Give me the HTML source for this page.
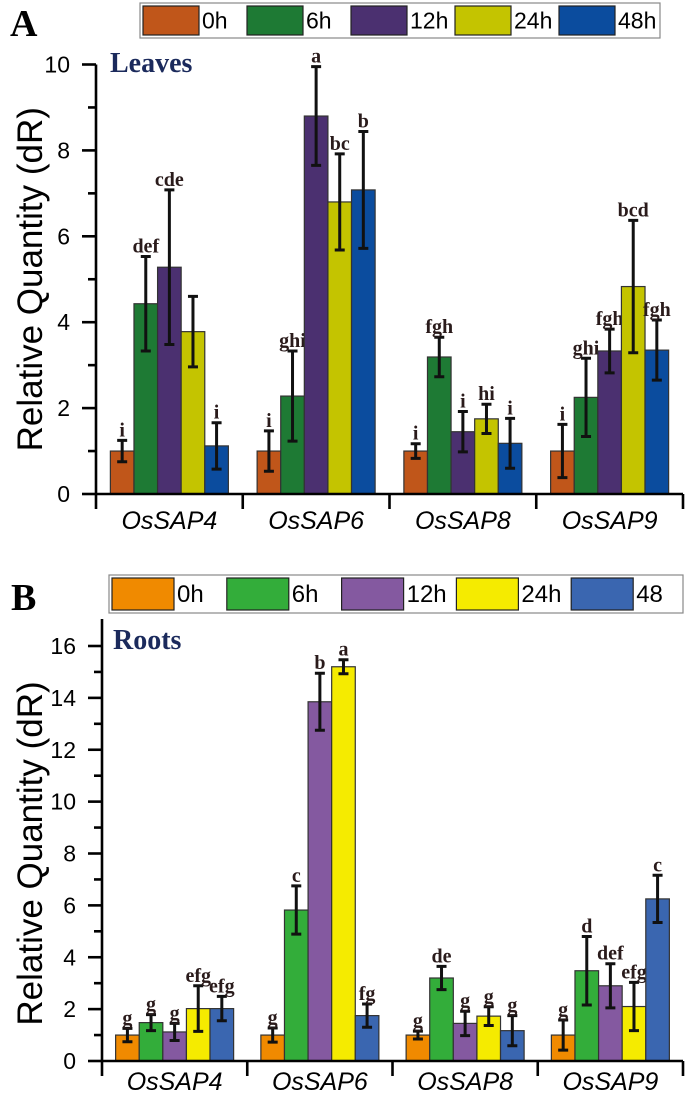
<!DOCTYPE html>
<html><head><meta charset="utf-8">
<style>
html,body{margin:0;padding:0;background:#fff;}
svg{display:block;}
</style></head>
<body>
<svg id="chart" width="685" height="1094" viewBox="0 0 685 1094" xmlns="http://www.w3.org/2000/svg"></svg>
<script>
const genes = ["OsSAP4","OsSAP6","OsSAP8","OsSAP9"];
const timepoints = ["0h","6h","12h","24h","48h"];
const legendLabelsB = ["0h","6h","12h","24h","48"];
// Panel A (leaves)
const leaves0h  = [1.0, 1.0, 1.0, 1.0];
const leaves6h  = [4.43, 2.28, 3.19, 2.25];
const leaves12h = [5.28, 8.8, 1.45, 3.33];
const leaves24h = [3.78, 6.8, 1.75, 4.83];
const leaves48h = [1.12, 7.08, 1.18, 3.35];
const leavesErr0h  = [0.25, 0.47, 0.17, 0.62];
const leavesErr6h  = [1.1, 1.05, 0.46, 0.91];
const leavesErr12h = [1.8, 1.15, 0.47, 0.51];
const leavesErr24h = [0.82, 1.12, 0.34, 1.54];
const leavesErr48h = [0.54, 1.36, 0.58, 0.7];
const leavesSig0h  = ["i","i","i","i"];
const leavesSig6h  = ["def","ghi","fgh","ghi"];
const leavesSig12h = ["cde","a","i","fgh"];
const leavesSig24h = ["","bc","hi","bcd"];
const leavesSig48h = ["i","b","i","fgh"];
const leavesTicks = [0,2,4,6,8,10];
// Panel B (roots)
const roots0h  = [1.0, 1.0, 1.0, 1.0];
const roots6h  = [1.48, 5.82, 3.2, 3.48];
const roots12h = [1.12, 13.85, 1.45, 2.9];
const roots24h = [2.02, 15.2, 1.73, 2.1];
const roots48h = [2.02, 1.75, 1.17, 6.25];
const rootsErr0h  = [0.26, 0.27, 0.15, 0.58];
const rootsErr6h  = [0.31, 0.93, 0.45, 1.32];
const rootsErr12h = [0.33, 1.1, 0.47, 0.85];
const rootsErr24h = [0.88, 0.27, 0.36, 0.93];
const rootsErr48h = [0.47, 0.45, 0.58, 0.91];
const rootsSig0h  = ["g","g","g","g"];
const rootsSig6h  = ["g","c","de","d"];
const rootsSig12h = ["g","b","g","def"];
const rootsSig24h = ["efg","a","g","efg"];
const rootsSig48h = ["efg","fg","g","c"];
const rootsTicks = [0,2,4,6,8,10,12,14,16];

const NS = "http://www.w3.org/2000/svg";
const svg = document.getElementById("chart");
function mk(tag, attrs, parent){
  const e = document.createElementNS(NS, tag);
  for (const k in attrs) e.setAttribute(k, attrs[k]);
  (parent||svg).appendChild(e);
  return e;
}

function panel(cfg){
  const g = mk("g", {});
  
  
  const yScale = v => cfg.y0 - (v/cfg.yMax)*(cfg.y0 - cfg.yTop);
  const groupW = (cfg.xEnd - cfg.x0)/genes.length;
  const barW = 23.6;
  const L = mk("text", {x: cfg.letterX, y: cfg.letterY, "font-family":"Liberation Serif, serif", "font-weight":"bold", "font-size":"38"}, g);
  L.textContent = cfg.letter;
  
  
  const lg = mk("g", {}, g);
  
  
  mk("rect", {x: cfg.legX, y: cfg.legY, width: cfg.legW, height: cfg.legH, fill:"#fff", stroke:"#888", "stroke-width":"1.2"}, lg);
  const step = cfg.legW / 5;
  for (let i=0;i<5;i++){
    const sx = cfg.legX + 3 + i*step;
    const ent = mk("g", {}, lg);
    
    
    mk("rect", {x: sx, y: cfg.legY+3, width: cfg.swW, height: cfg.legH-6, fill: cfg.colors[i], stroke:"#222", "stroke-width":"1.2"}, ent);
    const t = mk("text", {x: sx + cfg.swW + 3, y: cfg.legY + cfg.legH/2 + 8, "font-family":"Liberation Sans, sans-serif", "font-size": cfg.legFont}, ent);
    t.textContent = cfg.legendLabels[i];
  }
  const T = mk("text", {x: cfg.titleX, y: cfg.titleY, "font-family":"Liberation Serif, serif", "font-weight":"bold", "font-size":"28", fill:"#1b2a5c"}, g);
  T.textContent = cfg.title;
  
  
  const series = cfg.series, errs = cfg.errs, sigs = cfg.sigs;
  for (let gi=0; gi<genes.length; gi++){
    const gx = cfg.x0 + gi*groupW + (groupW - 5*barW)/2;
    for (let si=0; si<5; si++){
      const v = series[si][gi], e = errs[si][gi];
      const x = gx + si*barW;
      const r = mk("rect", {x: x, y: yScale(v), width: barW, height: cfg.y0 - yScale(v), fill: cfg.colors[si], stroke:"#333", "stroke-width":"1.2"}, g);
      
      
      const cx = x + barW/2, yt = yScale(v+e), yb = yScale(Math.max(0,v-e));
      const eb = mk("path", {d:`M${cx},${yt}V${yb}M${cx-5},${yt}H${cx+5}M${cx-5},${yb}H${cx+5}`, stroke:"#111", "stroke-width":"3", fill:"none"}, g);
      
      
      if (sigs[si][gi]){
        const s = mk("text", {x: cx, y: yt - 4, "text-anchor":"middle", "font-family":"Liberation Serif, serif", "font-weight":"bold", "font-size":"20", fill:"#2a1b1b"}, g);
        s.textContent = sigs[si][gi];
        
        
      }
    }
    const lab = mk("text", {x: cfg.x0 + (gi+0.5)*groupW, y: cfg.y0 + cfg.labOff, "text-anchor":"middle", "font-family":"Liberation Sans, sans-serif", "font-style":"italic", "font-size":"25"}, g);
    lab.textContent = genes[gi];
    
    
  }
  const ax = mk("g", {stroke:"#000", "stroke-width":"2.6", fill:"none"}, g);
  
  
  mk("path", {d:`M${cfg.x0},${cfg.yTop - cfg.axisExtra}V${cfg.y0}H${cfg.xEnd}`}, ax);
  for (let gi=0; gi<=genes.length; gi++){
    const x = cfg.x0 + gi*groupW;
    mk("path", {d:`M${x},${cfg.y0}V${cfg.y0+15}`}, ax);
  }
  for (let v=0; v<=cfg.yMax; v+=cfg.minor){
    const y = yScale(v);
    const major = cfg.ticks.indexOf(v) >= 0;
    mk("path", {d:`M${cfg.x0 - (major?14:8)},${y}H${cfg.x0}`}, ax);
  }
  for (const t of cfg.ticks){
    const tl = mk("text", {x: cfg.x0 - 26, y: yScale(t) + 8, "text-anchor":"end", "font-family":"Liberation Sans, sans-serif", "font-size":"23"}, g);
    tl.textContent = t;
    
    
  }
  const yt = mk("text", {x:0, y:0, transform:`translate(${cfg.yTitleX},${(cfg.y0+cfg.yTop)/2}) rotate(-90)`, "text-anchor":"middle", "font-family":"Liberation Sans, sans-serif", "font-size":"35"}, g);
  yt.textContent = "Relative Quantity (dR)";
  
  
}

panel({name:"panel-a-leaves", letter:"A", letterX:10, letterY:36, title:"Leaves", titleX:110, titleY:72,
  legX:140, legY:3, legW:520, legH:35, swW:56, legFont:23, legendLabels: timepoints,
  colors:["#c0561a","#1e7a34","#4b3070","#c4c400","#0b4c9e"],
  x0:96, xEnd:683, y0:494, yTop:64.5, yMax:10, minor:1, axisExtra:0, ticks:leavesTicks, yTitleX:42, labOff:35,
  series:[leaves0h,leaves6h,leaves12h,leaves24h,leaves48h],
  errs:[leavesErr0h,leavesErr6h,leavesErr12h,leavesErr24h,leavesErr48h],
  sigs:[leavesSig0h,leavesSig6h,leavesSig12h,leavesSig24h,leavesSig48h]});

panel({name:"panel-b-roots", letter:"B", letterX:11, letterY:610, title:"Roots", titleX:113, titleY:649,
  legX:109, legY:575, legW:574, legH:38, swW:62, legFont:24, legendLabels: legendLabelsB,
  colors:["#f08a00","#33ad3a","#8459a0","#f5eb00","#3a66b0"],
  x0:102, xEnd:683, y0:1061, yTop:646, yMax:16, minor:1, axisExtra:27, ticks:rootsTicks, yTitleX:42, labOff:29,
  series:[roots0h,roots6h,roots12h,roots24h,roots48h],
  errs:[rootsErr0h,rootsErr6h,rootsErr12h,rootsErr24h,rootsErr48h],
  sigs:[rootsSig0h,rootsSig6h,rootsSig12h,rootsSig24h,rootsSig48h]});
</script>
</body></html>
